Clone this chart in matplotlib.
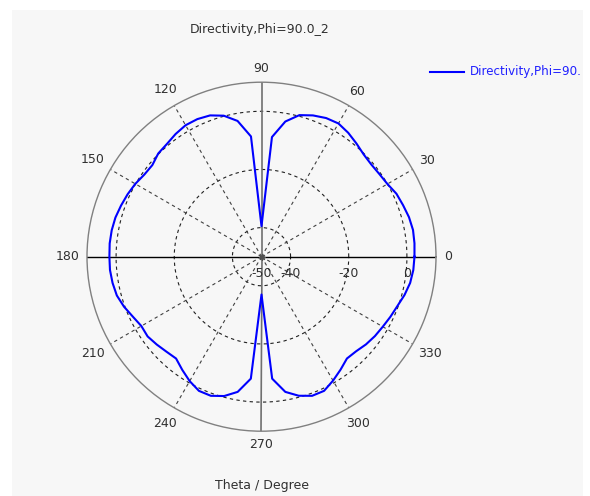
import numpy as np
import matplotlib
matplotlib.use("Agg")
import matplotlib.pyplot as plt
from matplotlib.patches import Rectangle
from matplotlib.lines import Line2D

# Directivity (dB) at Phi=90, theta sampled every 5 degrees
theta_deg = np.arange(0, 365, 5)
directivity = [
    2.6, 2.8, 2.9, 2.5, 1.8, 1.2, 0.0, -0.5, -0.7, -0.3,
    0.8, 2.0, 2.9, 2.6, 1.7, 0.4, -2.8, -8.7, -39.5, -8.5,
    -2.6, 0.2, 1.7, 2.2, 2.2, 1.5, 0.6, 0.2, -1.0, -0.8,
    0.1, 0.8, 1.4, 2.0, 2.3, 2.4, 2.3, 2.3, 2.0, 1.5,
    0.3, -1.2, -2.3, -2.2, -3.0, -3.8, -4.3, -2.5, -0.6, 0.9,
    0.9, -0.4, -2.8, -7.9, -37.0, -7.9, -2.8, -0.5, 0.9, 0.9,
    -0.8, -2.6, -4.3, -4.0, -3.1, -2.4, -1.85, -1.1, -0.3, 0.9,
    1.9, 2.4, 2.6,
]
ring_values = [-50, -40, -20, 0]
angle_labels = [0, 30, 60, 90, 120, 150, 180, 210, 240, 270, 300, 330]
r_min, r_max = -50, 10

W, H = 590, 496
plt.rcParams["font.family"] = "DejaVu Sans"
fig = plt.figure(figsize=(W / 100, H / 100), dpi=100, facecolor="white")

# light grey panel behind the plot
panel = Rectangle((12 / W, 0), (583 - 12) / W, (H - 10) / H,
                  transform=fig.transFigure, facecolor="#f7f7f7",
                  edgecolor="none", zorder=-10)
fig.patches.append(panel)

cx, cy, rad = 261.5, 256.7, 174.5
px_per_db = rad / (r_max - r_min)
ax = fig.add_axes([(cx - rad) / W, (H - cy - rad) / H, 2 * rad / W, 2 * rad / H],
                  projection="polar")
ax.set_facecolor("none")
ax.set_ylim(r_min, r_max)
ax.grid(False)
ax.set_xticks([])
ax.set_yticks([])
ax.spines["polar"].set_color("#808080")
ax.spines["polar"].set_linewidth(1.0)

text_color = "#303030"
fs = 9

# dashed rings
circ = np.linspace(0, 2 * np.pi, 361)
for rv in ring_values[1:]:
    ax.plot(circ, np.full_like(circ, rv), ls=(0, (3, 3)), color="#202020", lw=0.8)

# dashed spokes and angle labels just outside the rim
for a in angle_labels:
    t = np.deg2rad(a)
    if a % 90 != 0:
        ax.plot([t, t], [r_min, r_max], ls=(0, (3, 3)), color="#404040", lw=0.8)
    half_w = len(str(a)) * 3.5
    dist = 183 + abs(np.cos(t)) * half_w + abs(np.sin(t)) * 5
    ax.text(t, r_min + dist / px_per_db, str(a), ha="center", va="center",
            fontsize=fs, color=text_color, clip_on=False)

# solid axes through the centre
ax.plot([0, 0], [r_min, r_max], color="black", lw=1.0)
ax.plot([np.pi, np.pi], [r_min, r_max], color="black", lw=1.0)
ax.plot([np.pi / 2, np.pi / 2], [r_min, r_max], color="#707070", lw=1.2)
ax.plot([3 * np.pi / 2, 3 * np.pi / 2], [r_min, r_max], color="#707070", lw=1.2)

# ring value labels along the 0 degree axis
for rv in ring_values:
    ax.annotate(str(rv), xy=(0, rv), xytext=(0, -12), textcoords="offset points",
                ha="center", va="center", fontsize=fs, color=text_color)

# pattern
ax.plot(np.deg2rad(theta_deg), directivity, color="#0000ff", lw=1.5, zorder=5)

# centre marker
ax.plot([0], [r_min], marker="o", ms=3.5, mfc="none", mec="#505050", mew=0.5, zorder=6)
ax.plot([0], [r_min], marker=(8, 2, 0), ms=5, color="#505050", mew=0.5, zorder=6)

fig.text(260 / W, 1 - 29 / H, "Directivity,Phi=90.0_2", ha="center", va="center",
         fontsize=fs, color=text_color)
fig.text(262 / W, 1 - 485 / H, "Theta / Degree", ha="center", va="center",
         fontsize=fs, color=text_color)

# legend entry
fig.lines.append(Line2D([430 / W, 464 / W], [1 - 72 / H, 1 - 72 / H],
                        transform=fig.transFigure, color="#0000ff", lw=1.5))
fig.text(470 / W, 1 - 72 / H, "Directivity,Phi=90.", ha="left",
         va="center", fontsize=8.6, color="#2020ff")

fig.savefig("out.png", dpi=100, facecolor="white")
